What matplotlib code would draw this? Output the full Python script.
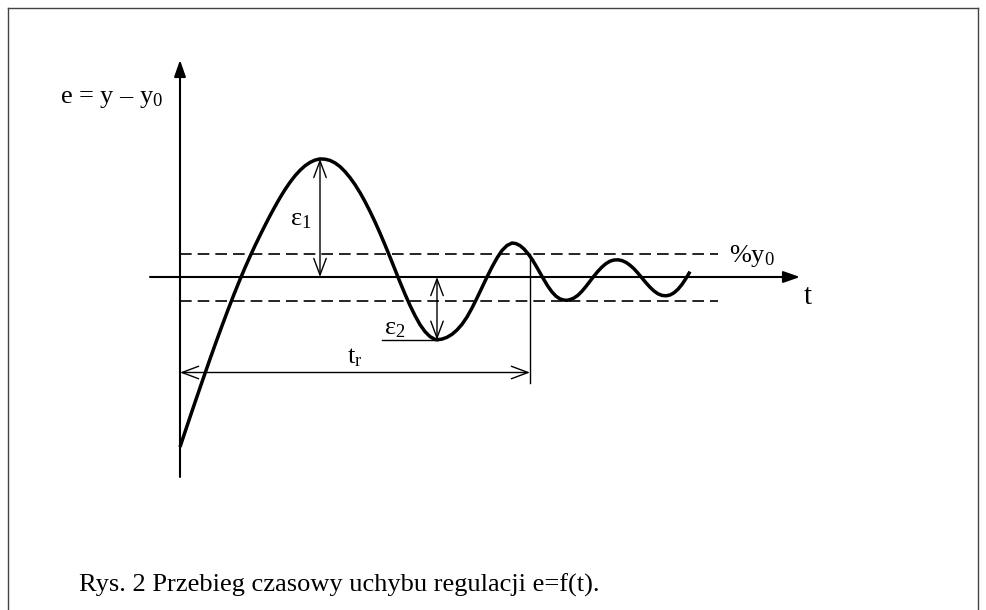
import numpy as np
import matplotlib
matplotlib.use("Agg")
import matplotlib.pyplot as plt
from matplotlib.lines import Line2D

# error curve e(t) (t, e in pixel-like units from origin)
t_pts = [0, 6, 12, 18, 24, 30, 36, 42, 48, 54, 60, 65, 70, 75, 80, 85, 90, 95,
         100, 105, 110, 115, 120, 125, 130, 135, 140,
         145, 150, 155, 160, 165, 170, 175, 180, 185, 190, 195, 200, 205, 210,
         215, 220, 225, 230, 235, 240, 245, 250, 255,
         257, 262, 267, 272, 277, 282, 287, 292, 297, 302, 307, 312, 317, 322,
         327, 332,
         336, 340, 344, 348, 352, 356, 360, 364, 368, 372, 376, 380, 384, 387,
         390, 394, 398, 402, 406, 410, 414, 418, 422, 426, 430, 434, 438,
         442, 446, 450, 454, 458, 462, 466, 470, 474, 478, 482, 486,
         490, 494, 498, 502, 506, 510]
e_pts = [-170, -152, -134.2, -116.6, -99.2, -82, -65.2, -48.8, -32.8, -17.3,
         -2.5, 9.3, 20.5, 31.3, 41.6, 51.6, 61.3, 70.5, 79.3, 87.4, 94.7, 101.2,
         106.7, 111.2, 114.6, 116.9, 118.1,
         117.8, 116.6, 114.1, 110.4, 105.4, 99.4, 92.4, 84.4, 75.4, 65.6, 55.1,
         43.9, 32.1, 19.9, 7.4, -5.1, -17.1, -28.4, -38.6, -47.6, -54.6, -59.6,
         -62.4,
         -62.8, -62.1, -60.3, -57.3, -53.0, -47.3, -40.0, -31.0, -21.0, -10.5,
         0.0, 10.0, 19.0, 26.5, 31.5, 34.0,
         33.4, 31.4, 28.0, 23.4, 17.8, 11.2, 4.2, -2.8, -9.4, -15.0, -19.2,
         -21.9, -23.1, -23.3,
         -22.6, -21.0, -18.2, -14.2, -9.4, -4.2, 1.0, 5.8, 10.0, 13.4, 15.8,
         17.0, 17.2,
         16.4, 14.6, 11.8, 8.2, 3.8, -1.0, -5.8, -10.2, -14.0, -16.8, -18.4,
         -18.8, -18.0, -15.8, -12.2, -7.4, -1.4, 5.4]
band = 23.5        # tolerance band +-%y0
t_r = 350          # settling time
t_axis = (-30, 620)
e_axis = (-200, 217)

plt.rcParams['font.family'] = ['Liberation Serif', 'DejaVu Serif']
plt.rcParams['mathtext.fontset'] = 'custom'
plt.rcParams['mathtext.rm'] = 'Liberation Serif'
plt.rcParams['mathtext.it'] = 'Liberation Serif'

t = np.array(t_pts)
e = np.array(e_pts)

fig = plt.figure(figsize=(9.87, 6.10), dpi=100)
ax = fig.add_axes([0, 0, 1, 1])
ax.set_xlim(-180, 807)
ax.set_ylim(-333, 277)
ax.axis('off')

# frame around the figure (open at the bottom) ------------
for xs, ys in [([8, 8], [8, 620]), ([8, 978], [8, 8]), ([978, 978], [8, 620])]:
    fig.add_artist(Line2D([x / 987 for x in xs], [1 - y / 610 for y in ys],
                          color='#444444', lw=1.0))

# axes with arrows ----------------------------------------
head = dict(arrowstyle='-|>,head_length=1.0,head_width=0.35', color='black',
            lw=1.5, shrinkA=0, shrinkB=0, mutation_scale=10)
ax.annotate('', xy=(t_axis[1], 0), xytext=(t_axis[0], 0), arrowprops=head)
ax.annotate('', xy=(0, e_axis[1]), xytext=(0, e_axis[0]), arrowprops=head)

# tolerance band ------------------------------------------
for lvl in (band, -band):
    ax.plot([0, 538], [lvl, lvl], color='black', lw=1.2, dashes=(7, 3.6))

# curve ---------------------------------------------------
ax.plot(t, e, color='black', lw=2.5, solid_capstyle='butt', solid_joinstyle='round')

# annotations ---------------------------------------------
dbl = dict(arrowstyle='<->,head_length=0.8,head_width=0.3', color='black',
           lw=1.0, shrinkA=0, shrinkB=0, mutation_scale=15)
i1 = int(np.argmax(e))
late = t > 100
i2 = int(np.flatnonzero(late)[np.argmin(e[late])])
ax.annotate('', xy=(t[i1], e[i1]), xytext=(t[i1], 0), arrowprops=dbl)
ax.annotate('', xy=(t[i2], e[i2]), xytext=(t[i2], 0), arrowprops=dbl)
ax.plot([t[i2] - 55, t[i2]], [e[i2], e[i2]], color='black', lw=1.0)
ax.plot([t_r, t_r], [band, -106], color='black', lw=1.0)
ax.annotate('', xy=(t_r, -95.5), xytext=(0, -95.5), arrowprops=dbl)

fs = 19
ax.text(t[i1] - 19, 57, r'ε$_1$', fontsize=fs, ha='center', va='center')
ax.text(t[i2] - 42, -52, r'ε$_2$', fontsize=fs, ha='center', va='center')
ax.text(175, -81, r't$_\mathrm{r}$', fontsize=fs, ha='center', va='center')
ax.text(549, 21, r'%y$_0$', fontsize=fs, ha='left', va='center')
ax.text(628, -20, 't', fontsize=fs + 2, ha='center', va='center')
ax.text(-120, 178, r'e = y – y$_0$', fontsize=fs, ha='left', va='center')

fig.text(79 / 987, 1 - 585 / 610, 'Rys. 2 Przebieg czasowy uchybu regulacji e=f(t).',
         fontsize=fs, ha='left', va='center')

fig.savefig('out.png', dpi=100)
